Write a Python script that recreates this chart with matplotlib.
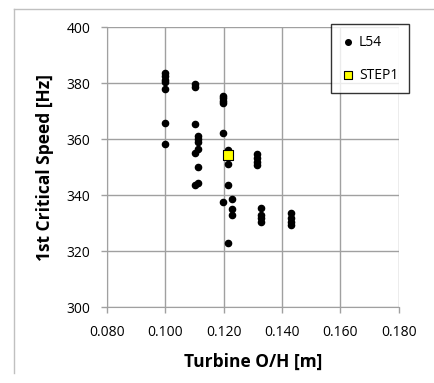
import matplotlib.pyplot as plt
from matplotlib.lines import Line2D

# datos L54
oh_l54 = [0.100, 0.100, 0.100, 0.100, 0.100, 0.100, 0.100,
          0.110, 0.110, 0.110, 0.110, 0.110,
          0.1113, 0.1113, 0.1113, 0.1113, 0.1113, 0.1113,
          0.1198, 0.1198, 0.1198, 0.1198, 0.1198, 0.1198,
          0.1214, 0.1214, 0.1214, 0.1214,
          0.1229, 0.1229, 0.1229,
          0.1315, 0.1315, 0.1315, 0.1315,
          0.1329, 0.1329, 0.1329, 0.1329,
          0.1429, 0.1429, 0.1429, 0.1429]
speed_l54 = [383.6, 382.4, 381.2, 380.3, 377.7, 365.6, 358.1,
             379.5, 378.6, 365.2, 355.0, 343.6,
             361.0, 359.9, 358.8, 356.5, 350.0, 344.4,
             375.5, 374.6, 373.6, 373.0, 362.0, 337.4,
             356.0, 351.0, 343.6, 323.0,
             338.5, 334.9, 332.9,
             354.6, 353.2, 351.8, 350.6,
             335.5, 332.9, 331.7, 330.5,
             333.4, 331.7, 330.2, 329.3]

# dato STEP1
oh_step1 = [0.1214]
speed_step1 = [354.2]

x_ticks = [0.080, 0.100, 0.120, 0.140, 0.160, 0.180]
y_ticks = [300, 320, 340, 360, 380, 400]

plt.rcParams['font.family'] = ['Open Sans', 'DejaVu Sans']

fig = plt.figure(figsize=(4.34, 3.83), dpi=100)
ax = fig.add_axes([0.2465, 0.1984, 0.6725, 0.7311])

ax.scatter(oh_l54, speed_l54, s=20, color='black', zorder=3, label='L54')
ax.scatter(oh_step1, speed_step1, s=45, marker='s', facecolor='#ffff00',
           edgecolor='black', linewidth=0.8, zorder=4, label='STEP1')

ax.set_xlim(0.080, 0.180)
ax.set_ylim(300, 400)
ax.set_xticks(x_ticks)
ax.set_yticks(y_ticks)
ax.set_xticklabels(['%.3f' % v for v in x_ticks])
ax.grid(True, color='#a0a0a0', linewidth=1)
ax.set_axisbelow(True)
for s in ['top', 'right']:
    ax.spines[s].set_visible(False)
for s in ['left', 'bottom']:
    ax.spines[s].set_color('#a0a0a0')
ax.tick_params(colors='#a0a0a0', labelcolor='black', labelsize=10, length=4, width=1)
ax.tick_params(axis='x', pad=9)
ax.tick_params(axis='y', pad=8)

ax.set_xlabel('Turbine O/H [m]', fontsize=12.5, fontweight='bold', labelpad=9)
ax.set_ylabel('1st Critical Speed [Hz]', fontsize=12.5, fontweight='bold', labelpad=9)

leg = ax.legend(loc='upper right', bbox_to_anchor=(1.058, 1.035), frameon=True,
                fancybox=False, edgecolor='black', fontsize=10, handletextpad=0.3,
                labelspacing=1.3, borderpad=0.75, handlelength=1.0, markerscale=0.9)
leg.get_frame().set_linewidth(1)

# marco exterior
fig.add_artist(Line2D([14/434, 14/434], [1-9/383, 1-373/383], color='#c0c0c0', lw=1))
fig.add_artist(Line2D([14/434, 1], [1-9/383, 1-9/383], color='#c0c0c0', lw=1))

fig.savefig('out.png', dpi=100)
